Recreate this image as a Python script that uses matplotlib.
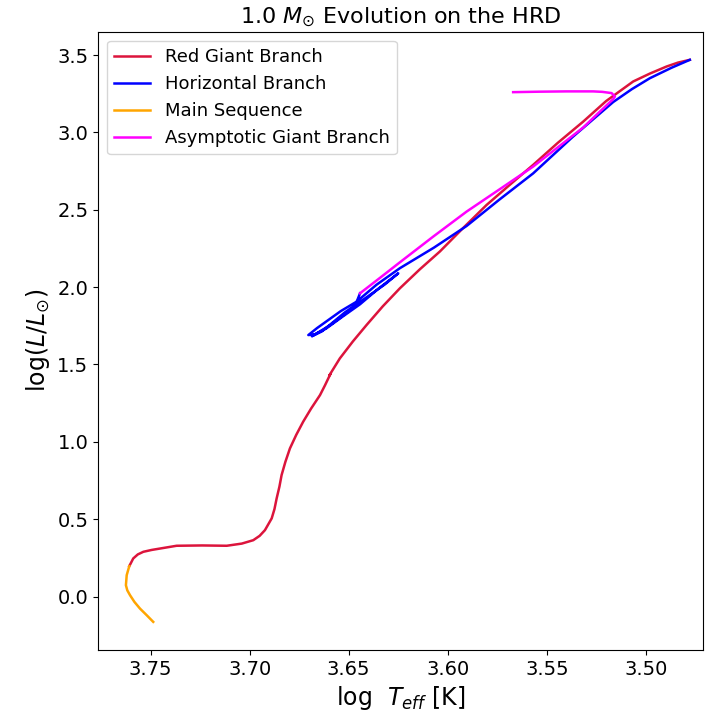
import numpy as np
import matplotlib
matplotlib.use("Agg")
import matplotlib.pyplot as plt

# Main sequence track (log Teff, log L)
ms_logT = [3.7487, 3.7520, 3.7554, 3.7582, 3.7604, 3.7618, 3.7625, 3.7623,
           3.7621, 3.7608]
ms_logL = [-0.164, -0.121, -0.078, -0.035, 0.008, 0.040, 0.073, 0.105,
           0.138, 0.196]

# Red giant branch
rgb_logT = [3.7608, 3.7588, 3.7565, 3.7537, 3.7495, 3.7453, 3.7369, 3.7240,
            3.7116, 3.7040, 3.6982, 3.6950, 3.6923, 3.6889, 3.6875, 3.6864,
            3.6850, 3.6839, 3.6820, 3.6797, 3.6765, 3.6730, 3.6690, 3.6645,
            3.6620, 3.6592, 3.6598, 3.6588, 3.6545, 3.6479, 3.6410, 3.6328,
            3.6242, 3.6141, 3.6040, 3.5924, 3.5804, 3.5686, 3.5569, 3.5444,
            3.5316, 3.5201, 3.5064, 3.4980, 3.4895, 3.4838, 3.4778]
rgb_logL = [0.196, 0.246, 0.272, 0.289, 0.301, 0.310, 0.328, 0.330,
            0.328, 0.342, 0.364, 0.392, 0.429, 0.505, 0.565, 0.634,
            0.710, 0.785, 0.870, 0.957, 1.045, 1.130, 1.215, 1.302,
            1.365, 1.440, 1.428, 1.450, 1.539, 1.649, 1.755, 1.876,
            1.992, 2.115, 2.230, 2.380, 2.531, 2.662, 2.790, 2.933,
            3.070, 3.202, 3.329, 3.380, 3.426, 3.451, 3.469]

# Horizontal branch (post-flash descent + core He burning loops)
hb_logT = [3.4778, 3.4870, 3.4980, 3.5070, 3.5165, 3.5370, 3.5569, 3.5740,
           3.5905, 3.6070, 3.6242, 3.6360, 3.6460, 3.6540, 3.6600, 3.6660,
           3.6704, 3.6670, 3.6612, 3.6530, 3.6443, 3.6350, 3.6250, 3.6317,
           3.6420, 3.6519, 3.6635, 3.6686, 3.6595, 3.6530, 3.6469, 3.6443]
hb_logL = [3.469, 3.418, 3.350, 3.280, 3.196, 2.970, 2.735, 2.565,
           2.395, 2.255, 2.122, 2.015, 1.906, 1.845, 1.790, 1.735,
           1.690, 1.695, 1.734, 1.810, 1.889, 1.990, 2.089, 2.018,
           1.925, 1.837, 1.714, 1.682, 1.753, 1.815, 1.876, 1.960]

# Asymptotic giant branch
agb_logT = [3.6443, 3.6340, 3.6242, 3.6075, 3.5905, 3.5735, 3.5569, 3.5440,
            3.5316, 3.5240, 3.5165, 3.5156, 3.5173, 3.5220, 3.5266, 3.5400,
            3.5540, 3.5670]
agb_logL = [1.960, 2.062, 2.160, 2.325, 2.488, 2.635, 2.779, 2.908,
            3.032, 3.125, 3.215, 3.232, 3.254, 3.262, 3.265, 3.265,
            3.263, 3.260]

fig, ax = plt.subplots(figsize=(7.1, 7.21), dpi=100)
fig.subplots_adjust(left=0.138, right=0.990, top=0.956, bottom=0.0985)

ax.plot(rgb_logT, rgb_logL, color="crimson", lw=1.8, label="Red Giant Branch")
ax.plot(hb_logT, hb_logL, color="blue", lw=1.8, label="Horizontal Branch")
ax.plot(ms_logT, ms_logL, color="orange", lw=1.8, label="Main Sequence")
ax.plot(agb_logT, agb_logL, color="magenta", lw=1.8, label="Asymptotic Giant Branch")

ax.set_xlim(3.7766, 3.4712)
ax.set_title(r"1.0 $M_{\odot}$ Evolution on the HRD", fontsize=16)
ax.set_xlabel(r"log  $T_{eff}$ [K]", fontsize=17)
ax.set_ylabel(r"log$(L/L_{\odot})$", fontsize=17)
ax.tick_params(labelsize=14)
ax.legend(loc="upper left", fontsize=13)

fig.savefig("out.png", dpi=100)
